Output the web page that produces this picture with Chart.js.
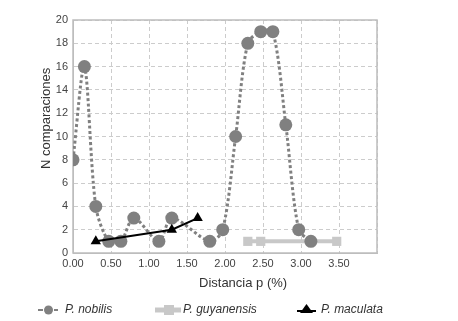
<!DOCTYPE html>
<html lang="es">
<head>
<meta charset="UTF-8">
<title>N comparaciones vs distancia p</title>
<script src="https://cdn.jsdelivr.net/npm/chart.js@4"></script>
<style>
    html, body { margin: 0; padding: 0; background: #fff; }
    canvas { display: block; }
</style>
</head>
<body>
<canvas id="distChart" width="458" height="321"></canvas>
<script>
// datos
const nobilisX = [0.00, 0.15, 0.30, 0.47, 0.63, 0.80, 1.13, 1.30, 1.80, 1.97, 2.14, 2.30, 2.47, 2.63, 2.80, 2.97, 3.13];
const nobilisY = [8, 16, 4, 1, 1, 3, 1, 3, 1, 2, 10, 18, 19, 19, 11, 2, 1];
const guyanensisX = [2.30, 2.47, 3.47];
const guyanensisY = [1, 1, 1];
const maculataX = [0.30, 1.30, 1.64];
const maculataY = [1, 2, 3];
const seriesNames = ['P. nobilis', 'P. guyanensis', 'P. maculata'];
const xAxisTitle = 'Distancia p (%)';
const yAxisTitle = 'N comparaciones';

const toPoints = (xs, ys) => xs.map((x, i) => ({ x: x, y: ys[i] }));

// marco del area + leyenda dibujada a mano
const frameAndLegend = {
    id: 'frameAndLegend',
    beforeDatasetsDraw(chart) {
        const { ctx, chartArea: a } = chart;
        ctx.save();
        ctx.strokeStyle = '#bdbdbd';
        ctx.lineWidth = 1.5;
        ctx.strokeRect(a.left, a.top, a.right - a.left, a.bottom - a.top);
        ctx.restore();
    },
    afterDraw(chart) {
        const ctx = chart.ctx;
        const y = 310;
        ctx.save();
        // P. nobilis
        ctx.strokeStyle = '#808080';
        ctx.lineWidth = 2;
        ctx.beginPath();
        ctx.moveTo(38, y); ctx.lineTo(43, y);
        ctx.moveTo(54, y); ctx.lineTo(58, y);
        ctx.stroke();
        ctx.fillStyle = '#808080';
        ctx.beginPath();
        ctx.arc(48.5, y, 4.5, 0, Math.PI * 2);
        ctx.fill();
        // P. guyanensis
        ctx.strokeStyle = '#c8c8c8';
        ctx.lineWidth = 5;
        ctx.beginPath();
        ctx.moveTo(155, y); ctx.lineTo(181, y);
        ctx.stroke();
        ctx.fillStyle = '#c8c8c8';
        ctx.fillRect(164, y - 5, 10, 10);
        // P. maculata
        ctx.strokeStyle = '#000';
        ctx.lineWidth = 2;
        ctx.beginPath();
        ctx.moveTo(297, y + 1); ctx.lineTo(316, y + 1);
        ctx.stroke();
        ctx.fillStyle = '#000';
        ctx.beginPath();
        ctx.moveTo(306.5, y - 6);
        ctx.lineTo(313, y + 3);
        ctx.lineTo(300, y + 3);
        ctx.closePath();
        ctx.fill();

        ctx.fillStyle = '#333';
        ctx.font = 'italic 12px "Liberation Sans", Arial, sans-serif';
        ctx.textBaseline = 'middle';
        const labels = chart.data.datasets.map(d => d.label);
        ctx.fillText(labels[0], 65, y);
        ctx.fillText(labels[1], 183, y);
        ctx.fillText(labels[2], 321, y);
        ctx.restore();
    }
};

const tickFont = { family: '"Liberation Sans", Arial, sans-serif', size: 11 };
const titleFont = { family: '"Liberation Sans", Arial, sans-serif', size: 13 };
const gridOpts = { color: '#cccccc', lineWidth: 1, drawTicks: false };

new Chart(document.getElementById('distChart'), {
    type: 'line',
    data: {
        datasets: [
            {
                label: seriesNames[0],
                data: toPoints(nobilisX, nobilisY),
                borderColor: '#808080',
                backgroundColor: '#808080',
                borderWidth: 3,
                borderDash: [3, 2.5],
                tension: 0.3,
                pointRadius: 6.5,
                pointBorderWidth: 0,
                order: 1
            },
            {
                label: seriesNames[1],
                data: toPoints(guyanensisX, guyanensisY),
                borderColor: '#c8c8c8',
                backgroundColor: '#c8c8c8',
                borderWidth: 4,
                pointStyle: 'rect',
                pointRadius: 6.5,
                pointBorderWidth: 0,
                order: 2
            },
            {
                label: seriesNames[2],
                data: toPoints(maculataX, maculataY),
                borderColor: '#000',
                backgroundColor: '#000',
                borderWidth: 2,
                pointStyle: 'triangle',
                pointRadius: 6,
                pointBorderWidth: 0,
                order: 0
            }
        ]
    },
    options: {
        responsive: false,
        animation: false,
        layout: { padding: { top: 20, right: 81, left: 35, bottom: 26 } },
        plugins: {
            legend: { display: false },
            tooltip: { enabled: false }
        },
        scales: {
            x: {
                type: 'linear',
                min: 0,
                max: 4,
                afterFit: s => { s.height = 42; },
                ticks: {
                    stepSize: 0.5,
                    padding: 4,
                    color: '#444',
                    font: tickFont,
                    maxRotation: 0,
                    callback: v => v >= 4 ? '' : v.toFixed(2)
                },
                grid: gridOpts,
                border: { color: '#bdbdbd', dash: [4, 3] },
                title: {
                    display: true,
                    text: '          ' + xAxisTitle,
                    color: '#333',
                    font: titleFont,
                    padding: { top: 4, bottom: 4 }
                }
            },
            y: {
                min: 0,
                max: 20,
                afterFit: s => { s.width = 38; },
                ticks: {
                    stepSize: 2,
                    padding: 5,
                    color: '#444',
                    font: tickFont
                },
                grid: gridOpts,
                border: { color: '#bdbdbd', dash: [4, 3] },
                title: {
                    display: true,
                    text: '          ' + yAxisTitle,
                    color: '#333',
                    font: titleFont,
                    padding: { top: 4, bottom: 4 }
                }
            }
        }
    },
    plugins: [frameAndLegend]
});
</script>
</body>
</html>
